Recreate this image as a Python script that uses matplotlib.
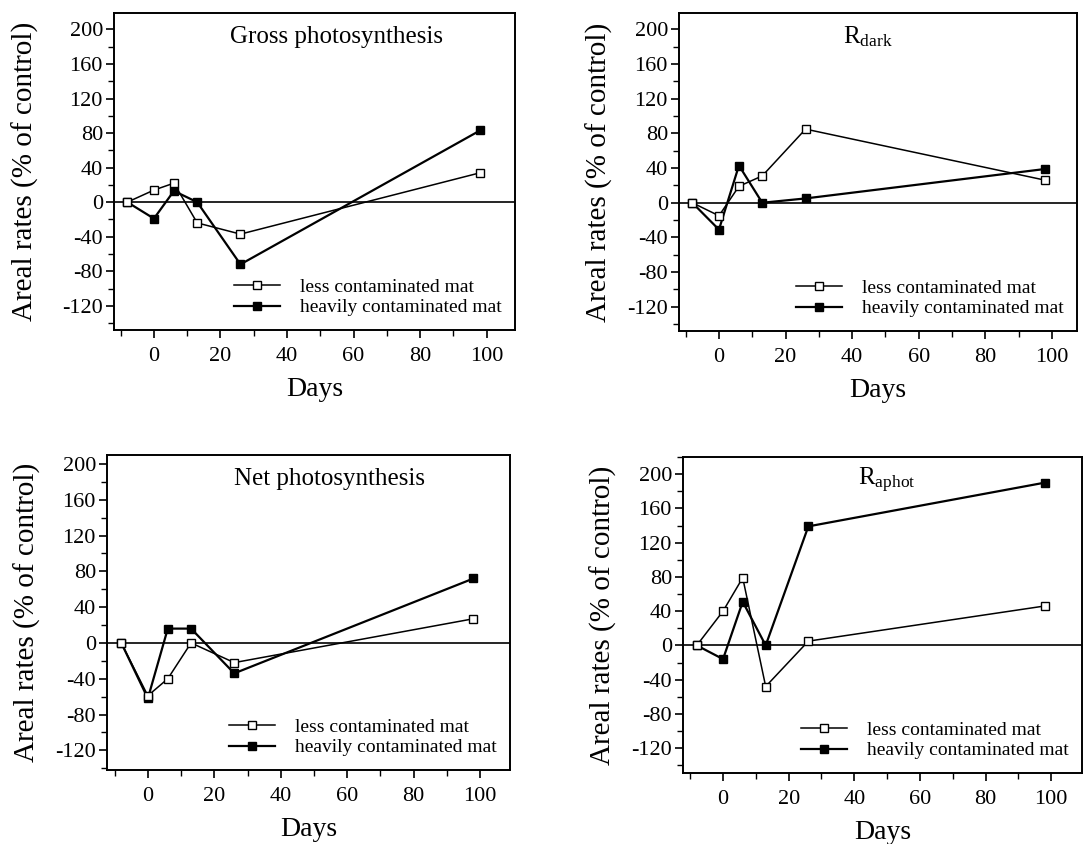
import matplotlib
matplotlib.use("Agg")
import matplotlib.pyplot as plt
from matplotlib.ticker import MultipleLocator

plt.rcParams["font.family"] = ["Liberation Serif", "DejaVu Serif"]
plt.rcParams["mathtext.fontset"] = "custom"
plt.rcParams["mathtext.rm"] = "Liberation Serif"
plt.rcParams["mathtext.it"] = "Liberation Serif:italic"
plt.rcParams["axes.unicode_minus"] = False

# sampling days, shared by all panels
days = [-8, 0, 6, 13, 26, 98]

# % of control
gross_less = [0, 14, 22, -24, -37, 34]
gross_heavy = [0, -19, 13, 0, -72, 83]
dark_less = [0, -15, 19, 31, 85, 26]
dark_heavy = [0, -31, 43, 0, 5, 39]
net_less = [0, -59, -40, 0, -22, 27]
net_heavy = [0, -62, 16, 16, -34, 72]
aphot_less = [0, 40, 79, -48, 5, 46]
aphot_heavy = [0, -16, 51, 0, 139, 190]

titles = ["Gross photosynthesis", r"R$_{\rm dark}$", "Net photosynthesis", r"R$_{\rm aphot}$"]
series = [(gross_less, gross_heavy), (dark_less, dark_heavy),
          (net_less, net_heavy), (aphot_less, aphot_heavy)]
labels = ["less contaminated mat", "heavily contaminated mat"]
y_ticks = [-120, -80, -40, 0, 40, 80, 120, 160, 200]

W, H = 1083, 844
fig = plt.figure(figsize=(W / 100, H / 100), dpi=100)

# axes boxes in pixels: left, right, top, bottom
boxes = [(114, 515, 13, 330), (679, 1077, 13, 331),
         (107, 510, 455, 770), (683, 1082, 457, 773)]
ylims = [(-148, 219), (-148, 219), (-142, 210), (-149, 220)]
xlims = [(-12, 108.5), (-12, 107.5), (-12.3, 109), (-12.2, 109.4)]
title_x = [0.556, 0.475, 0.553, 0.51]
ylabel_pad = [17, 10, 10, 10]

for i, ((l, r, t, b), (less, heavy)) in enumerate(zip(boxes, series)):
    ax = fig.add_axes([l / W, 1 - b / H, (r - l) / W, (b - t) / H])
    ax.axhline(0, color="black", lw=1.2, zorder=1)
    ax.plot(days, less, color="black", lw=1.1, marker="s", ms=6,
            mfc="white", mec="black", mew=1.0, label=labels[0], zorder=3)
    ax.plot(days, heavy, color="black", lw=1.6, marker="s", ms=6,
            mfc="black", mec="black", label=labels[1], zorder=2)
    ax.set_xlim(*xlims[i])
    ax.set_ylim(*ylims[i])
    ax.set_yticks(y_ticks)
    ax.xaxis.set_major_locator(MultipleLocator(20))
    ax.xaxis.set_minor_locator(MultipleLocator(10))
    ax.yaxis.set_minor_locator(MultipleLocator(20))
    ax.tick_params(which="major", direction="out", length=6, width=1.2, labelsize=16, pad=2)
    ax.tick_params(which="minor", direction="out", length=4, width=1.0)
    ax.tick_params(axis="x", pad=6)
    for sp in ax.spines.values():
        sp.set_linewidth(1.4)
    ax.set_xlabel("Days", fontsize=20, labelpad=8)
    ax.set_ylabel("Areal rates (% of control)", fontsize=21, labelpad=ylabel_pad[i])
    ax.text(title_x[i], 0.925, titles[i], transform=ax.transAxes,
            ha="center", va="center", fontsize=18)
    ax.legend(loc="lower right", frameon=False, fontsize=14, handlelength=2.4,
              handletextpad=1.0, labelspacing=0.15, borderaxespad=0.3)

fig.savefig("out.png", dpi=100)
